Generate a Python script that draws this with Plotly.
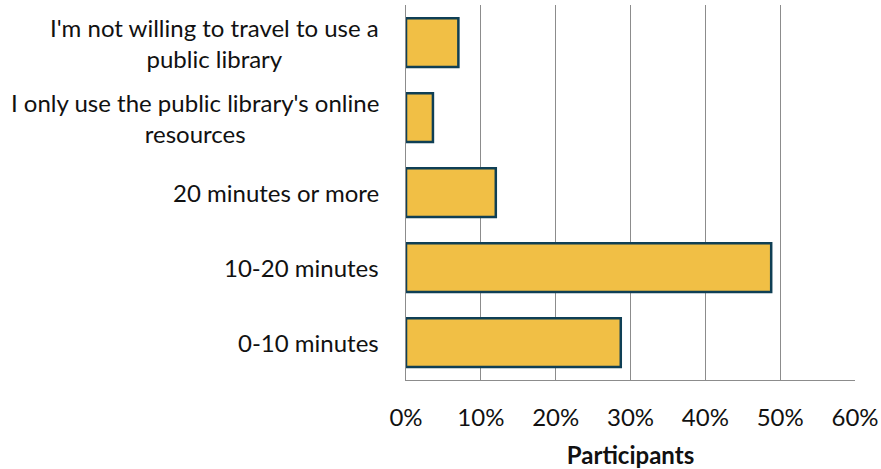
import plotly.graph_objects as go

# Travel time survey responses
categories = [
    "0-10 minutes",
    "10-20 minutes",
    "20 minutes or more",
    "I only use the public library's online<br>resources",
    "I'm not willing to travel to use a<br>public library",
]
shares = [0.287, 0.488, 0.120, 0.036, 0.070]
x_ticks = [0, 0.1, 0.2, 0.3, 0.4, 0.5, 0.6]
x_tick_labels = ["0%", "10%", "20%", "30%", "40%", "50%", "60%"]

font_name = "Lato, Open Sans, sans-serif"
fsize = 24

fig = go.Figure()
fig.add_trace(go.Bar(
    y=categories, x=shares, orientation="h", width=0.65,
    marker=dict(color="#F1BF45", line=dict(color="#0F3F55", width=2.5)),
))

# category labels as annotations so the wrapped lines stay centred
for cat in categories:
    fig.add_annotation(
        x=0, xref="paper", y=cat, yref="y", text=cat, showarrow=False,
        xanchor="right", align="center", xshift=-25,
        font=dict(family=font_name, size=fsize, color="#111111"),
    )

fig.update_layout(
    width=881, height=469,
    margin=dict(l=406, r=26, t=5, b=89, autoexpand=False),
    plot_bgcolor="white", paper_bgcolor="white",
    showlegend=False,
    font=dict(family=font_name, size=fsize, color="#111111"),
)
fig.update_xaxes(
    range=[0, 0.6], tickvals=x_ticks, ticktext=x_tick_labels,
    showgrid=True, gridcolor="#8C8C8C", gridwidth=1,
    showline=True, linecolor="#8C8C8C", linewidth=1, mirror=False,
    zeroline=False, ticks="outside", ticklen=16, tickcolor="rgba(0,0,0,0)",
    automargin=False,
    title=dict(text="<b>Participants</b>", standoff=19, font=dict(size=fsize)),
    tickfont=dict(size=fsize),
)
fig.update_yaxes(
    showticklabels=False, showline=True, linecolor="#8C8C8C", linewidth=1,
    showgrid=False, range=[-0.5, 4.5], ticks="", automargin=False,
)

# drop the page's default body margin so the figure sits at the corner
fig.write_html("out.html", config={"displayModeBar": False},
               post_script="document.body.style.margin='0';")
